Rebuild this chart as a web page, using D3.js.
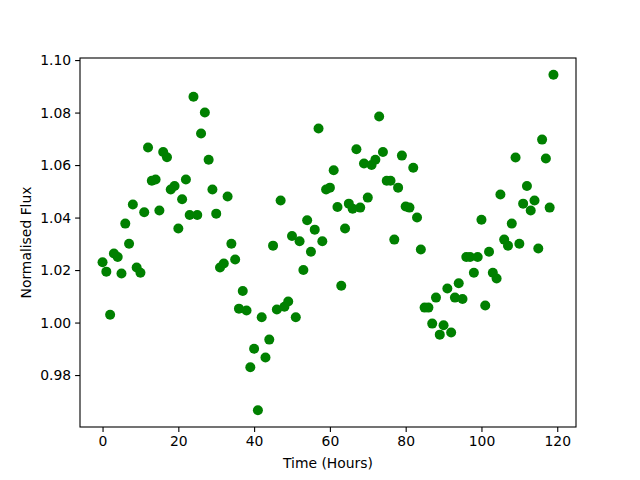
<!DOCTYPE html>
<html><head><meta charset="utf-8">
<script src="https://cdn.jsdelivr.net/npm/d3@7"></script>
<style>body{margin:0;background:#fff;} text{font-family:"DejaVu Sans",sans-serif;}</style>
</head><body>
<svg id="c" width="640" height="480"></svg>
<script>
const hours = d3.range(0, 120);
const flux = [
1.023,1.0194,1.003,1.0263,1.025,1.0187,1.0377,1.030,1.045,1.021,
1.019,1.042,1.0667,1.054,1.0545,1.0427,1.065,1.063,1.0507,1.052,
1.0358,1.047,1.0545,1.041,1.086,1.041,1.072,1.080,1.062,1.0507,
1.0415,1.021,1.0225,1.048,1.030,1.024,1.0053,1.012,1.0046,0.983,
0.990,0.9666,1.002,0.9867,0.9935,1.0293,1.005,1.0465,1.006,1.008,
1.033,1.002,1.031,1.020,1.039,1.027,1.0354,1.0739,1.031,1.0507,
1.0514,1.058,1.044,1.014,1.0358,1.0453,1.0434,1.066,1.0438,1.0606,
1.0476,1.060,1.062,1.0785,1.065,1.054,1.054,1.0316,1.0514,1.0636,
1.0442,1.0438,1.059,1.040,1.0278,1.0057,1.0057,0.9996,1.0095,0.9954,
0.999,1.013,0.9962,1.0095,1.015,1.009,1.025,1.025,1.019,1.025,
1.0392,1.0065,1.027,1.019,1.0168,1.0488,1.0316,1.0293,1.0377,1.0629,
1.030,1.0453,1.052,1.0427,1.0465,1.0282,1.0697,1.0625,1.0438,1.0944];
const xTicks = [0,20,40,60,80,100,120];
const yTicks = [0.98,1.00,1.02,1.04,1.06,1.08,1.10];
const xLabel = "Time (Hours)";
const yLabel = "Normalised Flux";

const L=80, R=576, T=58, B=427;
const svg = d3.select("#c");
const xExt = d3.extent(hours), yExt = d3.extent(flux);
const xm = (xExt[1]-xExt[0])*0.05, ym = (yExt[1]-yExt[0])*0.05;
const x = d3.scaleLinear().domain([xExt[0]-xm, xExt[1]+xm]).range([L, R]);
const y = d3.scaleLinear().domain([yExt[0]-ym, yExt[1]+ym]).range([B, T]);

const data = hours.map((h,i)=>({h, f:flux[i]}));
svg.append("g").selectAll("circle").data(data).join("circle")
  .attr("cx", d=>x(d.h)).attr("cy", d=>y(d.f)).attr("r", 5)
  .attr("fill", "#008000");

const xa = svg.append("g").attr("transform", `translate(0,${B})`)
  .call(d3.axisBottom(x).tickValues(xTicks).tickSize(4.9).tickPadding(4).tickFormat(d3.format("d")));
const ya = svg.append("g").attr("transform", `translate(${L},0)`)
  .call(d3.axisLeft(y).tickValues(yTicks).tickSize(4.9).tickPadding(4).tickFormat(d3.format(".2f")));
[xa, ya].forEach(a=>{
  a.select(".domain").remove();
  a.selectAll("line").attr("stroke","#000").attr("stroke-width",1.1);
  a.selectAll("text").attr("font-size","13.9px").attr("fill","#000").style("font-family","'DejaVu Sans',sans-serif");
});
svg.append("rect").attr("x",L).attr("y",T).attr("width",R-L).attr("height",B-T)
  .attr("fill","none").attr("stroke","#000").attr("stroke-width",1.1);

svg.append("text").attr("x",(L+R)/2).attr("y",468).attr("text-anchor","middle")
  .attr("font-size","13.9px").text(xLabel);
svg.append("text").attr("transform",`translate(31,${(T+B)/2}) rotate(-90)`).attr("text-anchor","middle")
  .attr("font-size","13.9px").text(yLabel);
</script>
</body></html>
